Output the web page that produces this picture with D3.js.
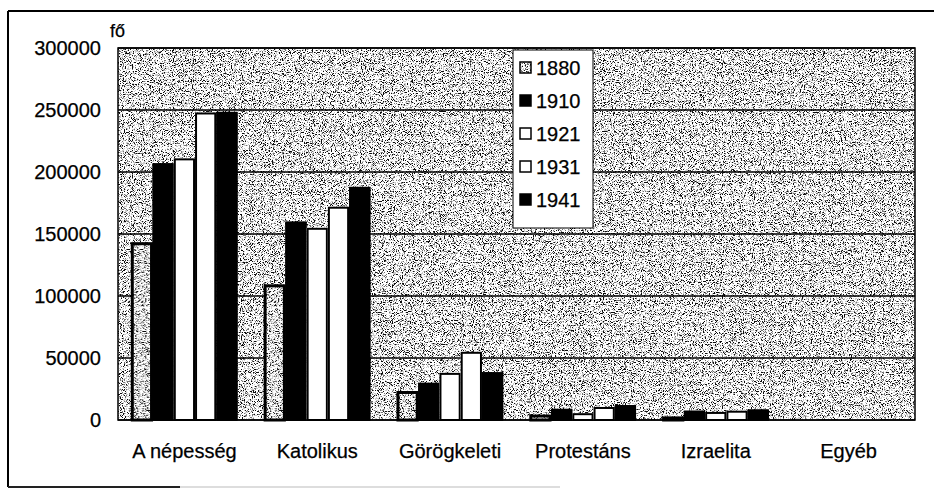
<!DOCTYPE html>
<html>
<head>
<meta charset="utf-8">
<script src="https://cdn.jsdelivr.net/npm/d3@7"></script>
<style>
  body { margin: 0; background: #fff; }
  text { font-family: "Liberation Sans", Arial, sans-serif; fill: #000; stroke: #000; stroke-width: 0.25px; }
</style>
</head>
<body>
<div id="chart"></div>
<script>
// Data
const categories = ["A népesség", "Katolikus", "Görögkeleti", "Protestáns", "Izraelita", "Egyéb"];
const years = ["1880", "1910", "1921", "1931", "1941"];
const v1880 = [143000, 109000, 23000, 4000, 2500, 200];
const v1910 = [207000, 160000, 30000, 9000, 7500, 200];
const v1921 = [211000, 155000, 38000, 5500, 6500, 200];
const v1931 = [248000, 172000, 55000, 10500, 7500, 300];
const v1941 = [248500, 188000, 38500, 12000, 8500, 300];
const yTicks = [0, 50000, 100000, 150000, 200000, 250000, 300000];

const seriesValues = [v1880, v1910, v1921, v1931, v1941];
const fills = ["url(#grainPat)", "#000", "#fff", "#fff", "#000"];

const W = 934, H = 490;
const margin = {top: 48, right: 19, bottom: 70, left: 118};
const width = W - margin.left - margin.right;
const height = H - margin.top - margin.bottom;

const svg = d3.select("#chart")
    .append("svg")
    .attr("width", W)
    .attr("height", H);

// Grainy black/white dither texture (scanned look), used as a pattern
const defs = svg.append("defs");
const filt = defs.append("filter")
    .attr("id", "grain")
    .attr("filterUnits", "userSpaceOnUse")
    .attr("x", 0).attr("y", 0).attr("width", W).attr("height", H)
    .attr("color-interpolation-filters", "sRGB");
filt.append("feTurbulence")
    .attr("type", "fractalNoise")
    .attr("baseFrequency", 1.1)
    .attr("numOctaves", 2)
    .attr("seed", 11);
filt.append("feColorMatrix")
    .attr("type", "matrix")
    .attr("values", "3 0 0 0 -0.85  3 0 0 0 -0.85  3 0 0 0 -0.85  0 0 0 0 1");
const ct = filt.append("feComponentTransfer");
["feFuncR", "feFuncG", "feFuncB"].forEach(f => {
    ct.append(f).attr("type", "discrete").attr("tableValues", "0.05 0.45 0.8 1 1");
});

const pat = defs.append("pattern")
    .attr("id", "grainPat")
    .attr("patternUnits", "userSpaceOnUse")
    .attr("width", W).attr("height", H);
pat.append("rect")
    .attr("width", W).attr("height", H)
    .attr("fill", "#999")
    .attr("filter", "url(#grain)");

// Outer frame
svg.append("line").attr("x1", 8).attr("x2", W).attr("y1", 11).attr("y2", 11)
    .attr("stroke", "#000").attr("stroke-width", 2);
svg.append("line").attr("x1", 8).attr("x2", 8).attr("y1", 11).attr("y2", 487)
    .attr("stroke", "#000").attr("stroke-width", 2);
svg.append("line").attr("x1", 8).attr("x2", 180).attr("y1", 487).attr("y2", 487)
    .attr("stroke", "#222").attr("stroke-width", 2);
svg.append("line").attr("x1", 180).attr("x2", 560).attr("y1", 487).attr("y2", 487)
    .attr("stroke", "#bbb").attr("stroke-width", 1);

const g = svg.append("g")
    .attr("transform", "translate(" + margin.left + "," + margin.top + ")");

// Scales
const x0 = d3.scaleBand().domain(categories).range([0, width])
    .paddingInner(0.2).paddingOuter(0.1);
const x1 = d3.scaleBand().domain(years).range([0, x0.bandwidth()]);
const y = d3.scaleLinear().domain([0, 300000]).range([height, 0]);

// Plot background
g.append("rect")
    .attr("width", width).attr("height", height)
    .attr("fill", "url(#grainPat)");

// Gridlines
g.append("g")
    .selectAll("line")
    .data(yTicks)
    .enter().append("line")
    .attr("x1", 0).attr("x2", width)
    .attr("y1", d => y(d)).attr("y2", d => y(d))
    .attr("stroke", "#000").attr("stroke-width", 1.5);

// Bars
const groups = g.selectAll(".cat")
    .data(categories)
    .enter().append("g")
    .attr("class", "cat")
    .attr("transform", d => "translate(" + x0(d) + ",0)");

years.forEach((yr, si) => {
    groups.append("rect")
        .attr("x", x1(yr))
        .attr("y", (d, i) => y(seriesValues[si][i]))
        .attr("width", x1.bandwidth())
        .attr("height", (d, i) => height - y(seriesValues[si][i]))
        .attr("fill", fills[si]);
    // outline drawn separately so it sits on top of the texture
    groups.append("rect")
        .attr("x", x1(yr) + 1)
        .attr("y", (d, i) => y(seriesValues[si][i]) + 1)
        .attr("width", x1.bandwidth() - 2)
        .attr("height", (d, i) => Math.max(0, height - y(seriesValues[si][i]) - 1))
        .attr("fill", "none")
        .attr("stroke", "#000")
        .attr("stroke-width", si === 0 ? 3 : 2);
});

// Plot border
g.append("rect")
    .attr("width", width).attr("height", height)
    .attr("fill", "none")
    .attr("stroke", "#000").attr("stroke-width", 1.5);

// Y axis labels
const yAxis = d3.axisLeft(y).tickValues(yTicks).tickSize(0).tickPadding(17)
    .tickFormat(d3.format("d"));
g.append("g").call(yAxis)
    .call(s => s.select(".domain").remove())
    .selectAll("text")
    .style("font-size", "20px")
    .attr("font-family", null);

// X axis labels
const xAxis = d3.axisBottom(x0).tickSize(0).tickPadding(24);
g.append("g")
    .attr("transform", "translate(0," + height + ")")
    .call(xAxis)
    .call(s => s.select(".domain").remove())
    .selectAll("text")
    .style("font-size", "20px")
    .attr("font-family", null);

// Unit label
svg.append("text")
    .attr("x", 110).attr("y", 37)
    .style("font-size", "18px")
    .text("fő");

// Legend
const legend = svg.append("g").attr("transform", "translate(513,50)");
legend.append("rect")
    .attr("width", 80).attr("height", 178)
    .attr("fill", "#fff").attr("stroke", "#000").attr("stroke-width", 1);
const items = legend.selectAll(".item")
    .data(years)
    .enter().append("g")
    .attr("class", "item")
    .attr("transform", (d, i) => "translate(7," + (18 + i * 33) + ")");
items.append("rect")
    .attr("x", 0).attr("y", -6).attr("width", 11).attr("height", 11)
    .attr("fill", (d, i) => fills[i])
    .attr("stroke", "#000").attr("stroke-width", 1.5);
items.append("text")
    .attr("x", 16).attr("y", 7)
    .style("font-size", "20px")
    .text(d => d);
</script>
</body>
</html>
